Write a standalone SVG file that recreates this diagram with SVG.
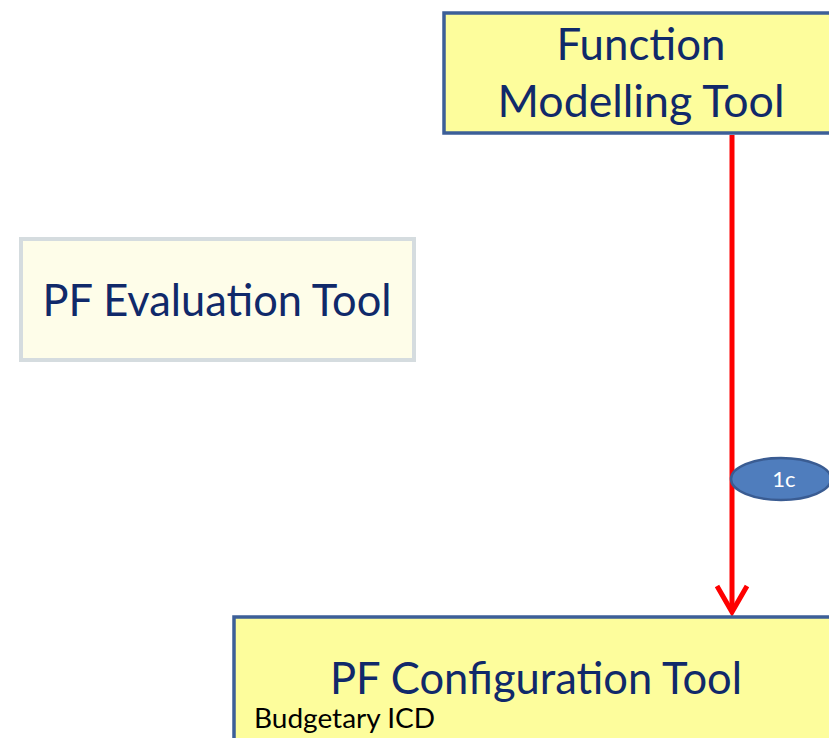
<svg xmlns="http://www.w3.org/2000/svg" width="829" height="738" viewBox="0 0 829 738">
<defs>
<style>
.box{fill:#fdfd9c;stroke:#3c5f98;stroke-width:3.5}
.t{font-family:Lato,"Open Sans","Liberation Sans",sans-serif;fill:#10296a;text-anchor:middle;font-size:44px}
.conn{stroke:#fe0000;stroke-width:5;fill:none}
</style>
</defs>
<rect width="829" height="738" fill="#ffffff"/>
<g id="connectors">
<line class="conn" x1="732" y1="135" x2="732" y2="612"/>
<polyline class="conn" points="717,586 732,612 747,586" stroke-linejoin="miter" stroke-width="6.5"/>
</g>
<g id="function-modelling-tool">
<rect class="box" x="444" y="13" width="400" height="120"/>
<text class="t" x="641" y="60" textLength="169" lengthAdjust="spacingAndGlyphs">Function</text>
<text class="t" x="641" y="117" textLength="287" lengthAdjust="spacingAndGlyphs">Modelling Tool</text>
</g>
<g id="pf-evaluation-tool">
<rect x="21" y="239" width="393" height="121" fill="#fefde9" stroke="#d5dcdf" stroke-width="4"/>
<text class="t" x="217" y="316" textLength="349" lengthAdjust="spacingAndGlyphs">PF Evaluation Tool</text>
</g>
<g id="label-1c">
<ellipse cx="781" cy="479" rx="50" ry="21" fill="#4f7dbd" stroke="#3a5c92" stroke-width="2.5"/>
<text x="784" y="487" font-family="Lato,'Open Sans','Liberation Sans',sans-serif" font-size="22" fill="#ffffff" text-anchor="middle">1c</text>
</g>
<g id="pf-configuration-tool">
<rect class="box" x="234" y="617" width="610" height="140"/>
<text class="t" x="536" y="694" textLength="412" lengthAdjust="spacingAndGlyphs">PF Configuration Tool</text>
<text x="254" y="728" font-family="Lato,'Open Sans','Liberation Sans',sans-serif" font-size="27" fill="#000000" textLength="181" lengthAdjust="spacingAndGlyphs">Budgetary ICD</text>
</g>
</svg>
